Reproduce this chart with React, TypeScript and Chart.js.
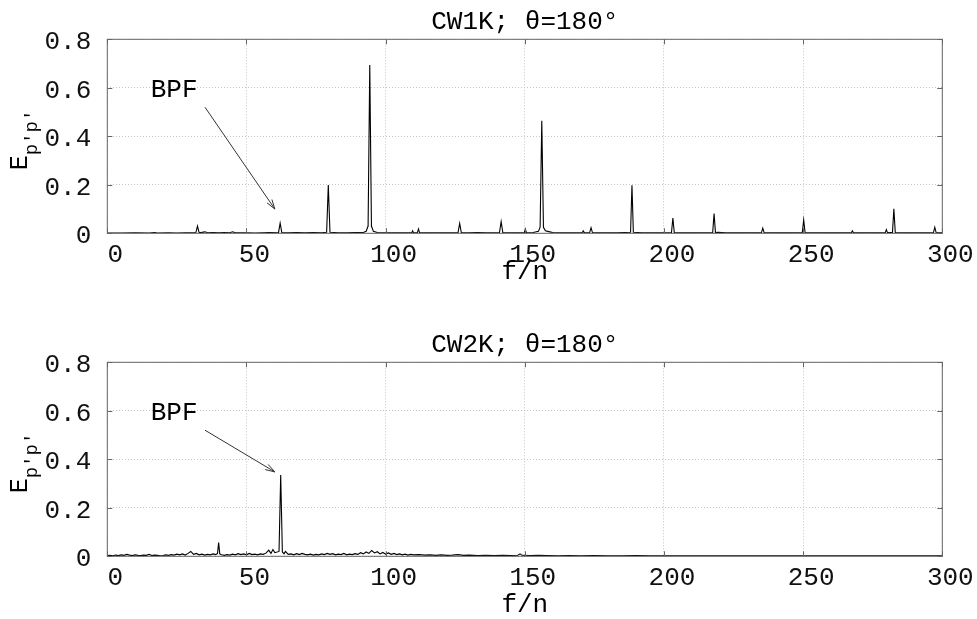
import React, { useEffect, useRef } from "react";
import { Chart, registerables } from "chart.js";
Chart.register(...registerables);

// ---- data ----
const xTicks = [0, 50, 100, 150, 200, 250, 300];
const yTicks = [0, 0.2, 0.4, 0.6, 0.8];

const titleTop = "CW1K; θ=180°";
const titleBottom = "CW2K; θ=180°";
const xLabel = "f/n";
const yLabelMain = "E";
const yLabelSub = "p'p'";
const bpfLabel = "BPF";

// CW1K spectrum (f/n, E)
const cw1kF = [
  0, 5, 10, 15, 17, 18, 22, 25, 28, 31.8, 32.4, 33.0, 35.1, 36, 38, 40, 42, 44, 45, 46,
  50, 53, 56, 58, 61.5, 62.1, 62.7, 65, 68, 71, 74, 77, 78.8, 79.4, 80.0, 83, 86, 89, 92,
  93.0, 93.7, 94.3, 94.9, 95.6, 97, 100, 103, 106, 109.4, 109.7, 110, 111.4, 111.8, 112.2,
  115, 118, 121, 124, 126.0, 126.6, 127.2, 130, 133, 136, 139, 140.9, 141.5, 142.1, 145,
  148, 149.8, 150.2, 150.6, 153, 154.9, 155.5, 156.1, 156.7, 157.4, 159, 160, 163, 166,
  170.6, 171.0, 171.4, 173.3, 173.8, 174.3, 177, 180, 183, 186, 188.0, 188.5, 189.0, 192,
  195, 198, 200.5, 202.7, 203.2, 203.7, 207, 210, 213, 217.5, 218.0, 218.5, 219.5, 222,
  226, 230, 235.0, 235.5, 236.0, 240, 245, 249.7, 250.2, 250.7, 255, 260, 265, 267.3,
  267.7, 268.1, 272, 276, 279.5, 279.9, 280.3, 282.1, 282.6, 283.1, 287, 291, 294, 296.8,
  297.3, 297.8, 300,
];
const cw1kE = [
  0.001, 0.001, 0.002, 0.001, 0.003, 0.001, 0.002, 0.001, 0.002, 0.002, 0.030, 0.002, 0.006, 0.002, 0.003, 0.002, 0.003, 0.002, 0.006, 0.002,
  0.002, 0.001, 0.002, 0.003, 0.002, 0.042, 0.003, 0.002, 0.003, 0.002, 0.003, 0.002, 0.004, 0.199, 0.004, 0.002, 0.002, 0.003, 0.003,
  0.008, 0.030, 0.694, 0.030, 0.008, 0.003, 0.002, 0.002, 0.002, 0.002, 0.010, 0.002, 0.002, 0.018, 0.002,
  0.002, 0.002, 0.002, 0.002, 0.002, 0.041, 0.002, 0.002, 0.003, 0.002, 0.002, 0.003, 0.048, 0.003, 0.002,
  0.002, 0.002, 0.018, 0.002, 0.003, 0.008, 0.025, 0.464, 0.025, 0.010, 0.006, 0.003, 0.002, 0.002,
  0.002, 0.010, 0.002, 0.003, 0.023, 0.003, 0.002, 0.002, 0.002, 0.003, 0.004, 0.198, 0.004, 0.002,
  0.002, 0.002, 0.002, 0.003, 0.063, 0.003, 0.002, 0.002, 0.002, 0.003, 0.081, 0.003, 0.004, 0.002,
  0.002, 0.002, 0.002, 0.021, 0.002, 0.002, 0.002, 0.003, 0.055, 0.003, 0.002, 0.002, 0.002, 0.002,
  0.010, 0.002, 0.002, 0.002, 0.002, 0.015, 0.003, 0.003, 0.101, 0.003, 0.002, 0.002, 0.002, 0.002,
  0.025, 0.002, 0.002,
];

// CW2K spectrum (f/n, E)
const cw2kF = [
  0, 1, 2, 3, 4, 5, 6, 7, 8, 9, 10, 11, 12, 13, 14, 15, 16, 17, 18, 19,
  20, 21, 22, 23, 24, 25, 26, 27, 28, 29, 30, 31, 32, 33, 34, 35, 36, 37, 38, 39,
  39.6, 40.0, 40.4, 41, 42, 43, 44, 45, 46, 47, 48, 49, 50, 51, 52, 53, 54, 55, 56, 57,
  58, 58.8, 59.5, 60.2, 61.7, 62.3, 62.9, 63.5, 64, 65, 66, 67, 68, 69, 70, 71, 72, 73, 74,
  75, 76, 77, 78, 79, 80, 81, 82, 83, 84, 85, 86, 87, 88, 89, 90, 91, 92, 93, 94, 95, 96,
  97, 98, 99, 100, 101, 102, 103, 104, 105, 106, 107, 108, 109, 110, 112, 114, 116, 118,
  120, 122, 124, 126, 128, 130, 133, 136, 139, 142, 145, 147.5, 148.3, 149, 152, 155, 158,
  162, 166, 170, 175, 180, 185, 190, 195, 200, 210, 220, 230, 240, 250, 260, 270, 280, 290, 300,
];
const cw2kE = [
  0.003, 0.004, 0.002, 0.005, 0.003, 0.006, 0.004, 0.008, 0.005, 0.003, 0.006, 0.004, 0.003, 0.005, 0.004, 0.008, 0.003, 0.005, 0.004, 0.002,
  0.003, 0.006, 0.004, 0.007, 0.005, 0.009, 0.006, 0.010, 0.005, 0.012, 0.020, 0.008, 0.012, 0.006, 0.009, 0.005, 0.008, 0.006, 0.010, 0.007,
  0.012, 0.057, 0.010, 0.006, 0.004, 0.007, 0.005, 0.009, 0.006, 0.011, 0.007, 0.010, 0.006, 0.012, 0.007, 0.009, 0.006, 0.010, 0.008, 0.013,
  0.025, 0.012, 0.028, 0.015, 0.020, 0.335, 0.018, 0.010, 0.020, 0.008, 0.010, 0.006, 0.011, 0.007, 0.012, 0.008, 0.006, 0.009, 0.005,
  0.008, 0.006, 0.010, 0.007, 0.012, 0.008, 0.011, 0.006, 0.009, 0.007, 0.012, 0.006, 0.009, 0.007, 0.011, 0.008, 0.015, 0.010, 0.018, 0.012, 0.024, 0.014,
  0.019, 0.010, 0.016, 0.009, 0.014, 0.008, 0.012, 0.007, 0.010, 0.006, 0.009, 0.005, 0.008, 0.006, 0.007, 0.005, 0.006, 0.004,
  0.006, 0.004, 0.005, 0.007, 0.004, 0.005, 0.003, 0.004, 0.003, 0.004, 0.003, 0.004, 0.010, 0.004, 0.003, 0.004, 0.003,
  0.002, 0.003, 0.002, 0.003, 0.002, 0.002, 0.003, 0.002, 0.002, 0.002, 0.002, 0.002, 0.002, 0.002, 0.002, 0.002, 0.002, 0.002, 0.002,
];

// BPF annotation (data coordinates)
const bpfTextPos = [15.6, 0.59];
const arrowTailTop = [35.1, 0.52];
const arrowHeadTop = [60.2, 0.1];
const arrowTailBottom = [35.1, 0.52];
const arrowHeadBottom = [60.2, 0.348];

// ---- layout ----
const W = 977;
const PLOT_LEFT = 107.3;
const PLOT_RIGHT = 942.3;
const PLOT_TOP = 39.3;
const PLOT_H = 194;
const MONO = '"Liberation Mono"';

const decorPlugin = {
  id: "decor",
  afterDatasetsDraw(chart: any, _args: any, opts: any) {
    const { ctx, chartArea: a, scales } = chart;
    const xs = scales.x;
    const ys = scales.y;
    ctx.save();
    // frame
    ctx.strokeStyle = "#666";
    ctx.lineWidth = 1;
    ctx.setLineDash([]);
    ctx.strokeRect(a.left, a.top, a.right - a.left, a.bottom - a.top);
    // inward ticks on all sides
    ctx.beginPath();
    xTicks.forEach((v) => {
      const px = Math.round(xs.getPixelForValue(v)) + 0.5;
      ctx.moveTo(px, a.bottom);
      ctx.lineTo(px, a.bottom - 5);
      ctx.moveTo(px, a.top);
      ctx.lineTo(px, a.top + 5);
    });
    yTicks.forEach((v) => {
      const py = Math.round(ys.getPixelForValue(v)) + 0.5;
      ctx.moveTo(a.left, py);
      ctx.lineTo(a.left + 5, py);
      ctx.moveTo(a.right, py);
      ctx.lineTo(a.right - 5, py);
    });
    ctx.stroke();

    const cx = (a.left + a.right) / 2;
    ctx.fillStyle = "#000";
    ctx.textAlign = "center";
    ctx.textBaseline = "middle";
    ctx.font = `26px ${MONO}`;
    ctx.fillText(opts.title, cx, a.top - 17);
    ctx.font = `26px ${MONO}`;
    ctx.fillText(xLabel, cx, a.bottom + opts.xLabelGap);

    // y label with subscript
    ctx.save();
    ctx.translate(27, a.top + 131);
    ctx.rotate(-Math.PI / 2);
    ctx.textAlign = "left";
    ctx.textBaseline = "alphabetic";
    ctx.font = `25px ${MONO}`;
    ctx.fillText(yLabelMain, 0, 0);
    const w = ctx.measureText(yLabelMain).width;
    ctx.font = `19px ${MONO}`;
    ctx.fillText(yLabelSub, w, 10);
    ctx.restore();

    // BPF annotation
    ctx.font = `26px ${MONO}`;
    ctx.textAlign = "left";
    ctx.textBaseline = "middle";
    ctx.fillText(bpfLabel, xs.getPixelForValue(bpfTextPos[0]), ys.getPixelForValue(bpfTextPos[1]));
    const tx = xs.getPixelForValue(opts.tail[0]);
    const ty = ys.getPixelForValue(opts.tail[1]);
    const hx = xs.getPixelForValue(opts.head[0]);
    const hy = ys.getPixelForValue(opts.head[1]);
    ctx.strokeStyle = "#333";
    ctx.lineWidth = 1;
    ctx.beginPath();
    ctx.moveTo(tx, ty);
    ctx.lineTo(hx, hy);
    const ang = Math.atan2(hy - ty, hx - tx);
    const L = 10;
    const sp = 0.3;
    ctx.moveTo(hx - L * Math.cos(ang - sp), hy - L * Math.sin(ang - sp));
    ctx.lineTo(hx, hy);
    ctx.lineTo(hx - L * Math.cos(ang + sp), hy - L * Math.sin(ang + sp));
    ctx.stroke();
    ctx.restore();
  },
};

function makeChart(canvas: HTMLCanvasElement, H: number, fs: number[], es: number[], title: string, tail: number[], head: number[], xLabelGap: number) {
  const points = fs.map((f, i) => ({ x: f, y: es[i] }));
  return new Chart(canvas, {
    type: "line",
    data: {
      datasets: [
        {
          data: points,
          borderColor: "#000",
          borderWidth: 1.1,
          pointRadius: 0,
          tension: 0,
          fill: false,
        },
      ],
    },
    options: {
      animation: false,
      responsive: false,
      maintainAspectRatio: false,
      devicePixelRatio: 1,
      layout: { padding: { left: 0, top: PLOT_TOP, right: W - PLOT_RIGHT, bottom: 0 } },
      events: [],
      plugins: {
        legend: { display: false },
        tooltip: { enabled: false },
        title: { display: false },
        decor: { title, tail, head, xLabelGap },
      } as any,
      scales: {
        x: {
          type: "linear",
          min: 0,
          max: 300,
          afterFit: (scale: any) => {
            scale.height = H - PLOT_TOP - PLOT_H;
          },
          afterBuildTicks: (scale: any) => {
            scale.ticks = xTicks.map((v) => ({ value: v }));
          },
          ticks: {
            padding: 6,
            labelOffset: 8,
            maxRotation: 0,
            autoSkip: false,
            color: "#111",
            font: { family: MONO, size: 26 },
            callback: (v: any) => String(v),
          },
          grid: { color: "#c4c4c4", lineWidth: 1, drawTicks: false, tickLength: 0 },
          border: { display: false, dash: [1, 2] },
        },
        y: {
          type: "linear",
          min: 0,
          max: 0.8,
          afterFit: (scale: any) => {
            scale.width = PLOT_LEFT;
          },
          afterBuildTicks: (scale: any) => {
            scale.ticks = yTicks.map((v) => ({ value: v }));
          },
          ticks: {
            padding: 16,
            labelOffset: 3,
            autoSkip: false,
            color: "#111",
            font: { family: MONO, size: 26 },
            callback: (v: any) => (Number(v) === 0 ? "0" : Number(v).toFixed(1)),
          },
          grid: { color: "#c4c4c4", lineWidth: 1, drawTicks: false, tickLength: 0 },
          border: { display: false, dash: [1, 2] },
        },
      },
    },
    plugins: [decorPlugin],
  });
}

const TOP_H = 300;
const BOT_TOP = 323;
const BOT_H = 296;

export default function App() {
  const topRef = useRef<HTMLCanvasElement>(null);
  const botRef = useRef<HTMLCanvasElement>(null);
  useEffect(() => {
    const c1 = makeChart(topRef.current!, TOP_H, cw1kF, cw1kE, titleTop, arrowTailTop, arrowHeadTop, 39);
    const c2 = makeChart(botRef.current!, BOT_H, cw2kF, cw2kE, titleBottom, arrowTailBottom, arrowHeadBottom, 49);
    return () => {
      c1.destroy();
      c2.destroy();
    };
  }, []);
  return (
    <div style={{ position: "absolute", left: 0, top: 0, width: W, height: 619, background: "#fff" }}>
      <canvas ref={topRef} width={W} height={TOP_H} style={{ position: "absolute", left: 0, top: 0 }} />
      <canvas ref={botRef} width={W} height={BOT_H} style={{ position: "absolute", left: 0, top: BOT_TOP }} />
    </div>
  );
}
